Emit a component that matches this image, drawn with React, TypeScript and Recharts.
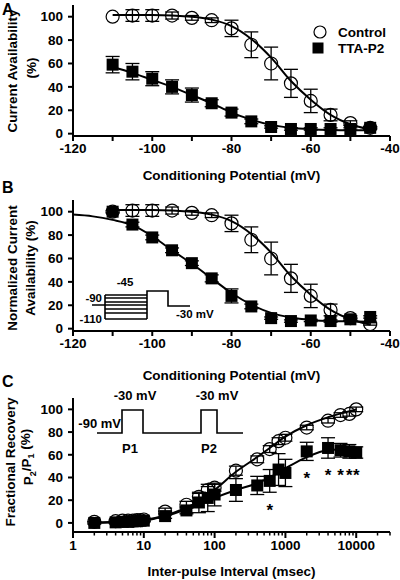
import React from 'react';
import { ComposedChart, Line, Scatter, XAxis, YAxis, ErrorBar } from 'recharts';

// conditioning potentials (mV), panels A and B
const volts = [-110, -105, -100, -95, -90, -85, -80, -75, -70, -65, -60, -55, -50, -45];
const ctrlA = [100, 101, 101, 101, 99, 97, 90, 76, 60, 43, 28, 16, 9, 5];
const ctrlAErr = [0, 5, 5, 3, 2, 2, 7, 11, 14, 12, 10, 5, 2, 1];
const ttaA = [59, 53, 47, 40, 33, 26, 18, 10.5, 5.7, 4, 4, 4, 4, 5];
const ttaAErr = [7, 7, 6, 6, 6, 3, 3, 2, 1, 1, 1, 1, 1, 1];

const ctrlB = [100, 101, 101, 101, 99, 97, 90, 76, 60, 43, 28, 16, 9, 4];
const ctrlBErr = [0, 5, 5, 3, 2, 2, 7, 11, 14, 12, 10, 5, 2, 1];
const ttaB = [100, 89, 78, 67, 56, 43, 28, 19, 9, 6.5, 7, 6.5, 8, 10];
const ttaBErr = [1, 2, 2, 2, 2, 3, 6, 2, 1, 1, 1, 1, 1, 1];

// fitted curves
const fitCtrlX = [-110, -100, -90, -85, -80, -75, -70, -65, -60, -55, -50, -45];
const fitCtrlY = [101.5, 101.5, 100, 97.5, 92, 81, 65, 45, 29, 16, 8, 3.5];
const fitTtaAX = [-110, -105, -100, -95, -90, -85, -80, -75, -70, -65, -60, -55, -50, -45];
const fitTtaAY = [57, 52, 46, 40, 33, 26, 18, 12, 7.5, 5, 3.8, 3.2, 3, 3];
const fitTtaBX = [-120, -115, -110, -105, -100, -95, -90, -85, -80, -75, -70, -65, -60, -55, -50, -45];
const fitTtaBY = [97.5, 96, 93, 88.5, 79, 67, 55.5, 43, 30.5, 20.5, 13.5, 9.5, 7.5, 6.5, 6.2, 6];

// panel C: inter-pulse intervals (msec)
const intervals = [2, 4, 5, 6, 7, 8, 9, 10, 20, 40, 60, 80, 100, 200, 400, 600, 800, 1000, 2000, 4000, 6000, 8000, 10000];
const ctrlC = [1, 1.5, 2, 2, 2, 2.5, 2.5, 3, 10, 16, 23, 29, 31, 46, 56, 65, 72, 75, 84, 90, 95, 96, 100];
const ctrlCErr = [0, 0, 0, 0, 0, 0, 0, 0, 3, 3, 3, 3, 3, 4, 3, 3, 3, 3, 2, 2, 2, 2, 2];
const ttaC = [0, 0.5, 1, 1, 1.5, 1.5, 2, 2, 6, 11, 18, 22, 25, 29, 33, 37, 47, 44, 63, 66, 64, 63, 62];
const ttaCErr = [1, 1, 1, 1, 1, 1, 1, 1, 2, 3, 9, 12, 10, 10, 8, 10, 14, 12, 8, 9, 6, 6, 5];
const fitCX = [2, 5, 10, 20, 40, 60, 100, 200, 400, 600, 1000, 2000, 4000, 10000];
const fitCtrlCY = [0.5, 1.2, 2.5, 6.5, 13.5, 19, 29, 45, 58, 66, 76, 86, 93, 100];
const fitTtaCY = [0, 0.8, 2, 6, 12, 16, 22, 29, 35, 40, 48, 58, 64, 65];
const sigX = [600, 2000, 4000, 6000, 8000, 10000];
const sigY = [14, 42, 45, 45, 45, 45];

const voltTicks = [-120, -110, -100, -90, -80, -70, -60, -50, -40];
const pctTicks = [0, 20, 40, 60, 80, 100];
const logTicks = [1, 2, 3, 4, 5, 6, 7, 8, 9, 10, 20, 30, 40, 50, 60, 70, 80, 90, 100, 200, 300, 400, 500, 600, 700, 800, 900,
  1000, 2000, 3000, 4000, 5000, 6000, 7000, 8000, 9000, 10000, 20000, 30000];

const zip = (xs: number[], ys: number[], es?: number[]) => xs.map((x, i) => ({ x, y: ys[i], e: es ? es[i] : 0 }));

const FONT = '"Liberation Sans", Arial, sans-serif';
const tickFont = { fontFamily: FONT, fontSize: 13.5, fontWeight: 700, fill: '#000' };

const OpenCircle = (p: any) => <circle cx={p.cx} cy={p.cy} r={6.5} fill="none" stroke="#000" strokeWidth={1.2} />;
const FilledSquare = (p: any) => <rect x={p.cx - 6} y={p.cy - 6} width={12} height={12} fill="#000" />;
const Star = (p: any) => (
  <text x={p.cx} y={p.cy + 9} textAnchor="middle" style={{ fontFamily: FONT, fontSize: 17, fontWeight: 700, fill: '#000' }}>*</text>
);

const LogTick = (p: any) => {
  const v = p.payload.value;
  const major = v === 1 || v === 10 || v === 100 || v === 1000 || v === 10000;
  const ay = p.y - 7;
  return (
    <g>
      <line x1={p.x} x2={p.x} y1={ay} y2={ay + (major ? 6 : 3.5)} stroke="#000" strokeWidth={major ? 2 : 1.5} />
      {major && (
        <text x={p.x} y={ay + 8} dy="0.71em" textAnchor="middle" style={tickFont}>{v}</text>
      )}
    </g>
  );
};

const voltFmt = (v: number) => (v % 20 === 0 ? String(v) : '');

const VoltChart = ({ top, height, mt, ctrl, ctrlErr, tta, ttaErr, fitTX, fitTY, titleOffset }: any) => (
  <div style={{ position: 'absolute', left: 0, top }}>
    <ComposedChart width={400} height={height} margin={{ top: mt, right: 10, left: 0, bottom: 0 }}>
      <XAxis dataKey="x" type="number" domain={[-120, -40]} ticks={voltTicks} interval={0} tickFormatter={voltFmt}
        stroke="#000" strokeWidth={2} tickSize={5} tickLine={{ strokeWidth: 2 }} tick={tickFont}
        height={height - mt - 131}
        label={{ value: 'Conditioning Potential (mV)', position: 'insideBottom', offset: titleOffset, style: tickFont }} />
      <YAxis dataKey="y" type="number" domain={[-2, 110]} ticks={pctTicks} interval={0} width={73}
        stroke="#000" strokeWidth={2} tickSize={5} tickMargin={5} tickLine={{ strokeWidth: 2 }} tick={tickFont} />
      <Line data={zip(fitCtrlX, fitCtrlY)} dataKey="y" type="monotone" stroke="#000" strokeWidth={2} dot={false} isAnimationActive={false} />
      <Line data={zip(fitTX, fitTY)} dataKey="y" type="monotone" stroke="#000" strokeWidth={2} dot={false} isAnimationActive={false} />
      <Scatter data={zip(volts, ctrl, ctrlErr)} shape={OpenCircle} isAnimationActive={false}>
        <ErrorBar dataKey="e" direction="y" width={7} stroke="#000" strokeWidth={1.3} />
      </Scatter>
      <Scatter data={zip(volts, tta, ttaErr)} shape={FilledSquare} isAnimationActive={false}>
        <ErrorBar dataKey="e" direction="y" width={7} stroke="#000" strokeWidth={1.3} />
      </Scatter>
    </ComposedChart>
  </div>
);

const RecoveryChart = () => (
  <div style={{ position: 'absolute', left: 0, top: 380 }}>
    <ComposedChart width={400} height={200} margin={{ top: 18, right: 10, left: 0, bottom: 0 }}>
      <XAxis dataKey="x" type="number" scale="log" domain={[1, 30000]} ticks={logTicks} interval={0}
        stroke="#000" strokeWidth={2} tickSize={5} tickMargin={2} tickLine={false} tick={LogTick} height={48}
        label={{ value: 'Inter-pulse Interval (msec)', position: 'insideBottom', offset: 4, style: tickFont }} />
      <YAxis dataKey="y" type="number" domain={[-8, 110]} ticks={pctTicks} interval={0} width={73}
        stroke="#000" strokeWidth={2} tickSize={5} tickMargin={5} tickLine={{ strokeWidth: 2 }} tick={tickFont} />
      <Line data={zip(fitCX, fitCtrlCY)} dataKey="y" type="monotone" stroke="#000" strokeWidth={2} dot={false} isAnimationActive={false} />
      <Line data={zip(fitCX, fitTtaCY)} dataKey="y" type="monotone" stroke="#000" strokeWidth={2} dot={false} isAnimationActive={false} />
      <Scatter data={zip(intervals, ctrlC, ctrlCErr)} shape={OpenCircle} isAnimationActive={false}>
        <ErrorBar dataKey="e" direction="y" width={7} stroke="#000" strokeWidth={1.3} />
      </Scatter>
      <Scatter data={zip(intervals, ttaC, ttaCErr)} shape={FilledSquare} isAnimationActive={false}>
        <ErrorBar dataKey="e" direction="y" width={7} stroke="#000" strokeWidth={1.3} />
      </Scatter>
      <Scatter data={zip(sigX, sigY)} shape={Star} isAnimationActive={false} />
    </ComposedChart>
  </div>
);

const T = (props: any) => <text dominantBaseline="central" style={{ fontFamily: FONT, fontWeight: 700, fontSize: 13.5, fill: '#000' }} {...props} />;
const YLab = ({ x, y, children }: any) => (
  <text x={x} y={y} dy="0.35em" textAnchor="middle" transform={`rotate(-90 ${x} ${y})`}
    style={{ fontFamily: FONT, fontWeight: 700, fontSize: 13.5, fill: '#000' }}>{children}</text>
);

const Overlay = () => (
  <svg width={400} height={580} style={{ position: 'absolute', left: 0, top: 0, pointerEvents: 'none' }}>
    <text x={2} y={15} style={{ fontFamily: FONT, fontWeight: 700, fontSize: 16 }}>A</text>
    <text x={2} y={193} style={{ fontFamily: FONT, fontWeight: 700, fontSize: 16 }}>B</text>
    <text x={2} y={387} style={{ fontFamily: FONT, fontWeight: 700, fontSize: 16 }}>C</text>

    <YLab x={12} y={71}>Current Availability</YLab>
    <YLab x={31} y={68}>(%)</YLab>
    <YLab x={12} y={268}>Normalized Current</YLab>
    <YLab x={30} y={268}>Availability (%)</YLab>
    <YLab x={10} y={462}>Fractional Recovery</YLab>
    <text x={28} y={457} dy="0.35em" textAnchor="middle" transform="rotate(-90 28 457)"
      style={{ fontFamily: FONT, fontWeight: 700, fontSize: 13.5, fill: '#000' }}>
      P<tspan fontSize={9} dy="0.35em">2</tspan><tspan dy="-0.35em">/P</tspan><tspan fontSize={9} dy="0.35em">1</tspan><tspan dy="-0.35em"> (%)</tspan>
    </text>

    {/* legend */}
    <circle cx={320} cy={32} r={6} fill="none" stroke="#000" strokeWidth={1.2} />
    <rect x={312.5} y={42.5} width={11} height={11} fill="#000" />
    <T x={338} y={32}>Control</T>
    <T x={338} y={48}>TTA-P2</T>

    {/* panel B protocol */}
    <g stroke="#000" strokeWidth={1.6} fill="none">
      <path d="M92,305 H105 M105,295 V319 M147,319 V291 H168 V306 H190" />
      {[295, 298, 302, 305, 309, 313, 319].map((y) => <path key={y} d={`M105,${y} H147`} />)}
    </g>
    <g style={{ fontFamily: FONT, fontWeight: 700, fontSize: 11.5 }}>
      <text x={125} y={282} textAnchor="middle" dominantBaseline="central">-45</text>
      <text x={102} y={298} textAnchor="end" dominantBaseline="central">-90</text>
      <text x={102} y={319} textAnchor="end" dominantBaseline="central">-110</text>
      <text x={176} y={314} dominantBaseline="central">-30 mV</text>
    </g>

    {/* panel C protocol */}
    <path d="M97,433 H122 V410 H143 V433 H201 V410 H217 V433 H243" stroke="#000" strokeWidth={1.6} fill="none" />
    <g style={{ fontFamily: FONT, fontWeight: 700, fontSize: 13 }}>
      <text x={121} y={423} textAnchor="end" dominantBaseline="central">-90 mV</text>
      <text x={135} y={395} textAnchor="middle" dominantBaseline="central">-30 mV</text>
      <text x={217} y={395} textAnchor="middle" dominantBaseline="central">-30 mV</text>
      <text x={130} y={448} textAnchor="middle" dominantBaseline="central">P1</text>
      <text x={209} y={448} textAnchor="middle" dominantBaseline="central">P2</text>
    </g>
  </svg>
);

export default function App() {
  return (
    <div style={{ position: 'absolute', left: 0, top: 0, width: 400, height: 580, background: '#fff' }}>
      <VoltChart top={0} height={190} mt={5} ctrl={ctrlA} ctrlErr={ctrlAErr} tta={ttaA} ttaErr={ttaAErr}
        fitTX={fitTtaAX} fitTY={fitTtaAY} titleOffset={10} />
      <VoltChart top={190} height={195} mt={10} ctrl={ctrlB} ctrlErr={ctrlBErr} tta={ttaB} ttaErr={ttaBErr}
        fitTX={fitTtaBX} fitTY={fitTtaBY} titleOffset={5} />
      <RecoveryChart />
      <Overlay />
    </div>
  );
}
